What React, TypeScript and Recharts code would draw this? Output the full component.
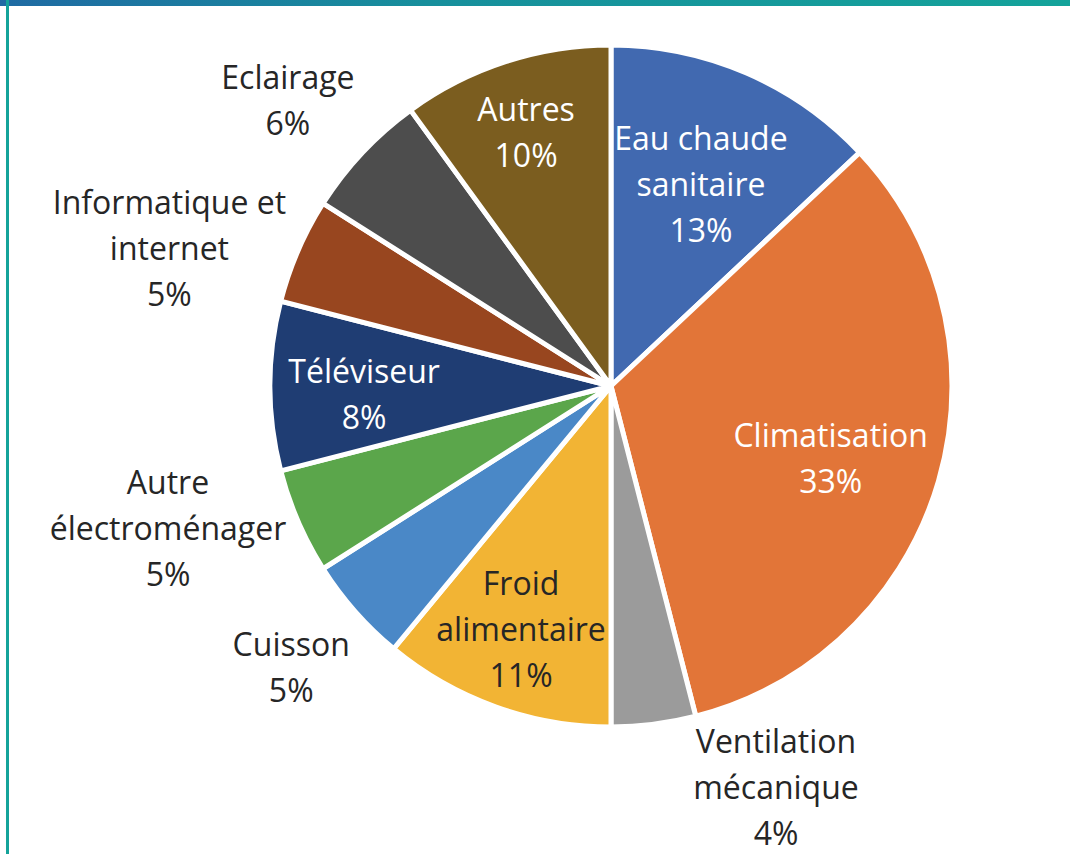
import { PieChart, Pie, Cell } from "recharts";

const CATEGORIES = [
  "Eau chaude|sanitaire",
  "Climatisation",
  "Ventilation|mécanique",
  "Froid|alimentaire",
  "Cuisson",
  "Autre|électroménager",
  "Téléviseur",
  "Informatique et|internet",
  "Eclairage",
  "Autres",
];

const SHARES = [13, 33, 4, 11, 5, 5, 8, 5, 6, 10];

const SLICE_COLORS = [
  "#4169b0",
  "#e27538",
  "#9b9b9b",
  "#f2b434",
  "#4a88c7",
  "#5ba64b",
  "#1f3d73",
  "#98461f",
  "#4d4d4d",
  "#7b5d1f",
];

// label placement: distance from centre, angular nudge (deg, clockwise), text colour
const LABEL_DIST = [222, 231, 433, 258, 425, 465, 247, 463, 432, 269];
const LABEL_NUDGE = [0.5, 1.8, -15.2, 0.6, 0.2, 5.7, -1.6, -5.9, -1.6, -0.4];
const LABEL_WHITE = [true, true, false, false, false, false, true, false, false, true];

const RAD = Math.PI / 180;
const LINE_H = 46;

const chartData = CATEGORIES.map((name, i) => ({ name, value: SHARES[i] }));

const renderLabel = (props: any) => {
  const { cx, cy, midAngle, index } = props;
  const angle = midAngle - LABEL_NUDGE[index];
  const r = LABEL_DIST[index];
  const x = cx + r * Math.cos(-angle * RAD);
  const y = cy + r * Math.sin(-angle * RAD);
  const lines = [...CATEGORIES[index].split("|"), `${SHARES[index]}%`];
  const top = y - ((lines.length - 1) * LINE_H) / 2;
  return (
    <text
      x={x}
      y={top}
      textAnchor="middle"
      dominantBaseline="central"
      fill={LABEL_WHITE[index] ? "#ffffff" : "#262626"}
      fontFamily="'Open Sans', sans-serif"
      fontWeight={500}
      fontSize={32}
    >
      {lines.map((line, i) => (
        <tspan key={i} x={x} y={top + i * LINE_H}>
          {line}
        </tspan>
      ))}
    </text>
  );
};

export default function App() {
  return (
    <div
      style={{
        position: "absolute",
        left: 0,
        top: 0,
        width: 1070,
        height: 854,
        background: "#ffffff",
        overflow: "hidden",
      }}
    >
      <div
        style={{
          position: "absolute",
          left: 0,
          top: 0,
          width: 1070,
          height: 6,
          background: "linear-gradient(90deg, #1f6aa3 0%, #178f9c 40%, #14a39a 100%)",
        }}
      />
      <div
        style={{
          position: "absolute",
          left: 6,
          top: 0,
          width: 3,
          height: 854,
          background: "#14a39a",
        }}
      />
      <div style={{ position: "absolute", left: 0, top: 0 }}>
        <PieChart width={1070} height={854}>
          <Pie
            data={chartData}
            dataKey="value"
            nameKey="name"
            cx={606}
            cy={381}
            outerRadius={341}
            startAngle={90}
            endAngle={-270}
            stroke="#ffffff"
            strokeWidth={5}
            label={renderLabel}
            labelLine={false}
            isAnimationActive={false}
          >
            {chartData.map((_, i) => (
              <Cell key={`cell-${i}`} fill={SLICE_COLORS[i]} />
            ))}
          </Pie>
        </PieChart>
      </div>
    </div>
  );
}
